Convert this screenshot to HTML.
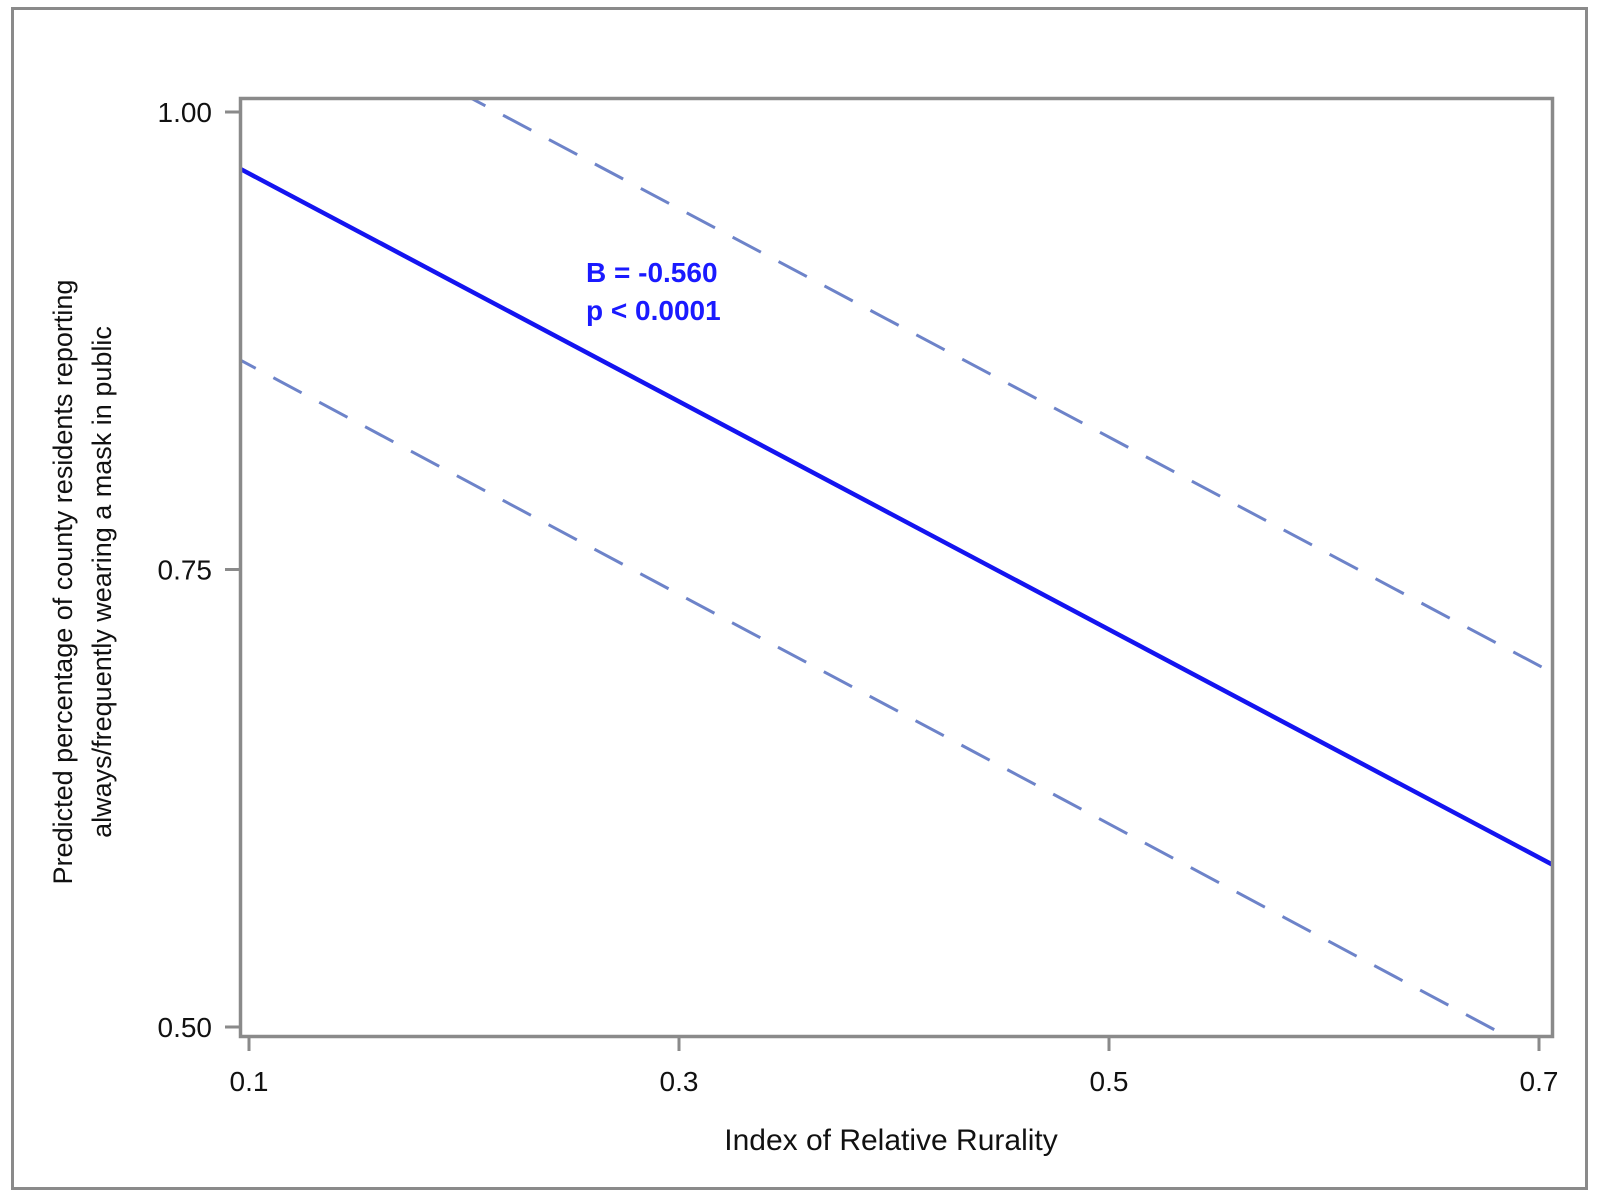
<!DOCTYPE html>
<html><head><meta charset="utf-8">
<style>
html,body{margin:0;padding:0;background:#fff;width:1600px;height:1202px;overflow:hidden;}
svg{display:block;font-family:"Liberation Sans",sans-serif;}
</style></head>
<body>
<svg id="chart" width="1600" height="1202" viewBox="0 0 1600 1202" xmlns="http://www.w3.org/2000/svg">
<rect x="12.5" y="8.5" width="1574" height="1180" fill="#fff" stroke="#8a8a8a" stroke-width="3"/>
<defs><clipPath id="plotclip"><rect x="241" y="99" width="1311" height="937"/></clipPath></defs>
<g id="lines" clip-path="url(#plotclip)"></g>
<rect x="240.5" y="98.5" width="1312" height="938" fill="none" stroke="#8a8a8a" stroke-width="3.5"/>
<g id="axes"></g>
<text x="586" y="282" font-size="28" font-weight="bold" fill="#1a1aff">B = -0.560</text>
<text x="586" y="320" font-size="28" font-weight="bold" fill="#1a1aff">p &lt; 0.0001</text>
<text x="891" y="1150" font-size="30" text-anchor="middle" fill="#111">Index of Relative Rurality</text>
<g transform="translate(0,582) rotate(-90)">
<text x="0" y="72" font-size="27" text-anchor="middle" fill="#111">Predicted percentage of county residents reporting</text>
<text x="0" y="111" font-size="27" text-anchor="middle" fill="#111">always/frequently wearing a mask in public</text>
</g>
</svg>
<script>
const xTicks=[0.1,0.3,0.5,0.7];
const xTickLabels=["0.1","0.3","0.5","0.7"];
const yTicks=[0.5,0.75,1.0];
const yTickLabels=["0.50","0.75","1.00"];
const lineX=[0.1,0.7];
const fitValues=[0.9664,0.5926];
const upperValues=[1.072,0.6975];
const lowerValues=[0.8619,0.4855];

const NS="http://www.w3.org/2000/svg";
function xs(v){return 249+(v-0.1)*2150;}
function ys(v){return 1027-(v-0.5)*1830;}
function mk(tag,attrs,parent){const e=document.createElementNS(NS,tag);for(const k in attrs)e.setAttribute(k,attrs[k]);parent.appendChild(e);return e;}
const lines=document.getElementById('lines');
const axes=document.getElementById('axes');
function drawLine(vals,name,color,w,dash){
  const s=(vals[1]-vals[0])/(lineX[1]-lineX[0]);
  const x0=0.09,x1=0.72;
  const l=mk('line',{x1:xs(x0),y1:ys(vals[0]+(x0-lineX[0])*s),x2:xs(x1),y2:ys(vals[0]+(x1-lineX[0])*s),stroke:color,'stroke-width':w,fill:'none'},lines);
  if(dash)l.setAttribute('stroke-dasharray',dash);
  
  
}
drawLine(upperValues,'upper-confidence-line','#6d83c9',3,'32 20');
drawLine(lowerValues,'lower-confidence-line','#6d83c9',3,'32 20');
drawLine(fitValues,'fitted-regression-line','#1414f0',4.5,null);
xTicks.forEach((t,i)=>{
  const tk=mk('line',{x1:xs(t),y1:1037,x2:xs(t),y2:1051,stroke:'#8a8a8a','stroke-width':3},axes);
  
  
  const tx=mk('text',{x:xs(t),y:1091,'font-size':28,'text-anchor':'middle',fill:'#111'},axes);
  tx.textContent=xTickLabels[i];
  
  
});
yTicks.forEach((t,i)=>{
  const tk=mk('line',{x1:225,y1:ys(t),x2:240,y2:ys(t),stroke:'#8a8a8a','stroke-width':3},axes);
  
  
  const tx=mk('text',{x:212,y:ys(t)+10,'font-size':28,'text-anchor':'end',fill:'#111'},axes);
  tx.textContent=yTickLabels[i];
  
  
});
</script>
</body></html>
